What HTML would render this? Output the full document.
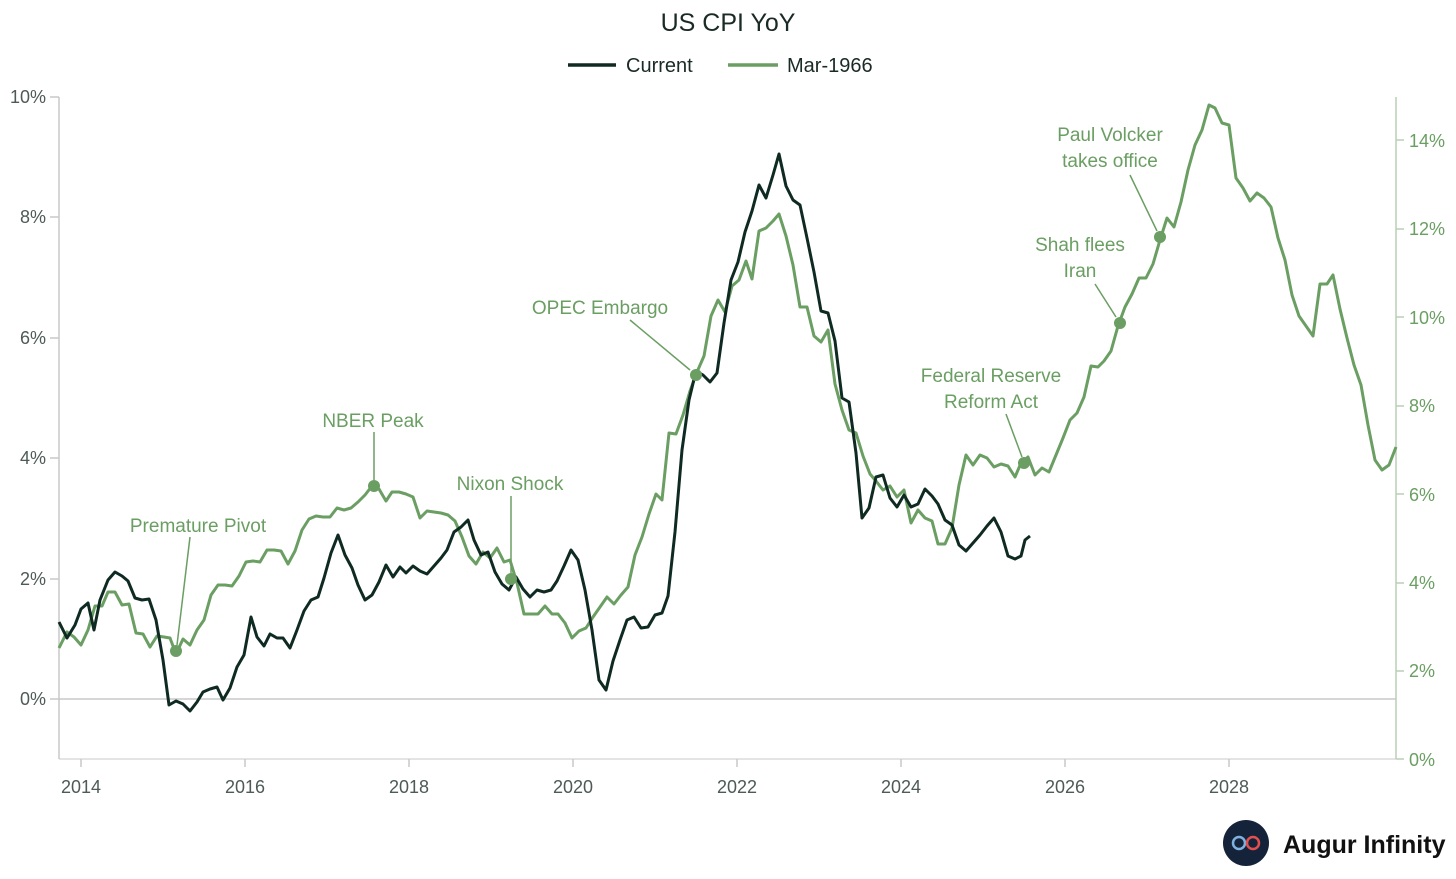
<!DOCTYPE html>
<html><head><meta charset="utf-8"><style>
html,body{margin:0;padding:0;background:#fff;}
svg{display:block;font-family:"Liberation Sans",sans-serif;}
</style></head><body>
<svg width="1456" height="879" viewBox="0 0 1456 879" xmlns="http://www.w3.org/2000/svg">
<rect width="1456" height="879" fill="#fff"/>
<text x="728" y="31" text-anchor="middle" font-size="25" fill="#1a2a26">US CPI YoY</text>
<line x1="568" y1="65" x2="616" y2="65" stroke="#0f2a22" stroke-width="3.5"/>
<text x="626" y="72" font-size="20" fill="#1a2a26">Current</text>
<line x1="728" y1="65" x2="778" y2="65" stroke="#6a9e62" stroke-width="3.5"/>
<text x="787" y="72" font-size="20" fill="#1a2a26">Mar-1966</text>
<!-- axes -->
<line x1="59" y1="97" x2="59" y2="759" stroke="#c8c8c8" stroke-width="1.5"/>
<line x1="1396" y1="97" x2="1396" y2="759" stroke="#b9cfb5" stroke-width="1.5"/>
<line x1="59" y1="699" x2="1396" y2="699" stroke="#c8c8c8" stroke-width="1.5"/>
<line x1="59" y1="759" x2="1396" y2="759" stroke="#c8c8c8" stroke-width="1"/>
<g font-size="18" fill="#4d5a56" text-anchor="end">
<text x="46" y="103">10%</text><text x="46" y="223">8%</text><text x="46" y="344">6%</text>
<text x="46" y="464">4%</text><text x="46" y="585">2%</text><text x="46" y="705">0%</text>
</g>
<g stroke="#c8c8c8" stroke-width="1.5">
<line x1="50" y1="97" x2="59" y2="97"/><line x1="50" y1="217" x2="59" y2="217"/><line x1="50" y1="338" x2="59" y2="338"/>
<line x1="50" y1="458" x2="59" y2="458"/><line x1="50" y1="579" x2="59" y2="579"/><line x1="50" y1="699" x2="59" y2="699"/>
</g>
<g font-size="18" fill="#6a9e62">
<text x="1409" y="147">14%</text><text x="1409" y="235">12%</text><text x="1409" y="324">10%</text>
<text x="1409" y="412">8%</text><text x="1409" y="501">6%</text><text x="1409" y="589">4%</text>
<text x="1409" y="677">2%</text><text x="1409" y="766">0%</text>
</g>
<g stroke="#b9cfb5" stroke-width="1.5">
<line x1="1396" y1="140" x2="1404" y2="140"/><line x1="1396" y1="229" x2="1404" y2="229"/><line x1="1396" y1="317" x2="1404" y2="317"/>
<line x1="1396" y1="406" x2="1404" y2="406"/><line x1="1396" y1="494" x2="1404" y2="494"/><line x1="1396" y1="583" x2="1404" y2="583"/>
<line x1="1396" y1="671" x2="1404" y2="671"/><line x1="1396" y1="759" x2="1404" y2="759"/>
</g>
<g font-size="18" fill="#4d5a56" text-anchor="middle">
<text x="81" y="793">2014</text><text x="245" y="793">2016</text><text x="409" y="793">2018</text><text x="573" y="793">2020</text>
<text x="737" y="793">2022</text><text x="901" y="793">2024</text><text x="1065" y="793">2026</text><text x="1229" y="793">2028</text>
</g>
<g stroke="#c8c8c8" stroke-width="1.5">
<line x1="81" y1="759" x2="81" y2="767"/><line x1="245" y1="759" x2="245" y2="767"/><line x1="409" y1="759" x2="409" y2="767"/><line x1="573" y1="759" x2="573" y2="767"/>
<line x1="737" y1="759" x2="737" y2="767"/><line x1="901" y1="759" x2="901" y2="767"/><line x1="1065" y1="759" x2="1065" y2="767"/><line x1="1229" y1="759" x2="1229" y2="767"/>
</g>
<!-- green series -->
<polyline fill="none" stroke="#6a9e62" stroke-width="3" stroke-linejoin="round" points="59,648 67,632 74,637 81,645 88,630 95,606 102,606 108,592 115,592 122,605 129,604 136,633 143,634 150,647 157,636 164,637 170,638 176,654 183,639 190,645 197,630 204,620 211,595 218,585 225,585 232,586 239,576 246,562 253,561 260,562 267,550 274,550 281,551 288,564 295,551 302,530 309,519 316,516 323,517 330,517 337,508 344,510 351,508 358,502 365,495 372,486 379,489 386,501 392,492 399,492 406,494 413,497 420,518 427,511 434,512 441,513 448,515 455,521 462,537 469,556 476,564 483,552 490,558 497,548 504,562 510,560 517,583 524,614 531,614 538,614 545,606 552,614 558,614 565,623 572,638 579,631 586,628 593,617 600,607 607,597 614,604 621,595 628,587 635,555 642,537 649,514 656,494 662,500 669,433 676,434 683,415 690,391 697,372 704,356 711,316 718,300 725,312 732,286 739,280 746,261 752,279 759,231 766,228 773,221 779,214 786,236 793,265 800,307 807,307 814,336 821,342 828,330 835,384 842,410 849,430 856,433 863,456 870,474 876,481 883,490 890,486 897,497 904,490 911,523 918,510 925,518 932,521 938,544 945,544 952,528 959,485 966,455 973,465 980,455 987,458 994,467 1001,464 1008,466 1015,477 1021,463 1028,457 1035,475 1042,468 1049,472 1056,455 1063,438 1070,420 1077,413 1084,397 1091,366 1098,367 1104,361 1111,351 1118,326 1125,307 1132,294 1139,278 1146,278 1153,264 1160,240 1167,218 1174,227 1181,202 1188,170 1195,145 1202,130 1209,105 1215,108 1222,123 1229,125 1236,178 1243,188 1250,201 1257,193 1264,198 1271,207 1278,238 1285,260 1292,295 1299,316 1306,326 1313,336 1320,284 1327,284 1333,275 1340,309 1347,338 1354,365 1361,385 1368,425 1375,460 1382,470 1389,465 1396,447"/>
<!-- current series -->
<polyline fill="none" stroke="#0f2a22" stroke-width="3" stroke-linejoin="round" points="59,622 67,638 75,625 81,609 88,603 94,630 100,600 108,580 115,572 122,576 128,581 135,598 142,600 149,599 156,620 163,660 169,705 176,701 183,704 190,711 197,702 203,692 210,689 217,687 223,700 230,688 237,667 244,655 251,617 257,637 264,646 270,634 277,638 283,638 290,648 297,630 304,611 311,600 318,597 324,578 331,553 338,535 345,555 352,568 358,585 365,600 372,595 379,582 386,565 393,577 400,567 406,573 413,566 420,571 427,574 434,566 441,558 447,550 454,532 461,527 468,520 474,540 481,555 488,552 495,572 502,584 509,590 516,577 523,589 530,597 537,590 544,592 551,590 557,581 564,566 571,550 578,560 585,590 592,630 599,680 606,690 613,661 620,640 627,620 634,617 641,628 648,627 655,615 662,613 668,596 675,532 682,450 689,400 696,371 703,375 710,382 717,373 724,323 731,280 738,262 745,232 752,211 759,185 766,198 773,175 779,154 786,186 793,200 800,205 807,238 814,272 821,311 828,313 835,341 842,398 849,402 856,453 862,518 869,508 876,477 883,475 890,498 897,507 904,495 911,507 918,504 925,489 932,496 938,504 945,520 952,525 959,545 966,551 973,543 980,535 987,526 994,518 1001,532 1008,556 1015,559 1021,556 1025,540 1030,536"/>
<!-- annotations -->
<g stroke="#6a9e62" stroke-width="1.5" fill="none">
<line x1="190" y1="537" x2="177" y2="645"/>
<line x1="374" y1="432" x2="374" y2="480"/>
<line x1="511" y1="496" x2="511" y2="573"/>
<line x1="630" y1="320" x2="690" y2="370"/>
<line x1="1006" y1="414" x2="1022" y2="457"/>
<line x1="1095" y1="284" x2="1116" y2="317"/>
<line x1="1130" y1="175" x2="1157" y2="231"/>
</g>
<g fill="#6a9e62">
<circle cx="176" cy="651" r="6"/><circle cx="374" cy="486" r="6"/><circle cx="511" cy="579" r="6"/>
<circle cx="696" cy="375" r="6"/><circle cx="1024" cy="463" r="6"/><circle cx="1120" cy="323" r="6"/><circle cx="1160" cy="237" r="6"/>
</g>
<g font-size="19" fill="#6a9e62" text-anchor="middle">
<text x="198" y="532">Premature Pivot</text>
<text x="373" y="427">NBER Peak</text>
<text x="510" y="490">Nixon Shock</text>
<text x="600" y="314">OPEC Embargo</text>
<text x="991" y="382">Federal Reserve</text><text x="991" y="408">Reform Act</text>
<text x="1080" y="251">Shah flees</text><text x="1080" y="277">Iran</text>
<text x="1110" y="141">Paul Volcker</text><text x="1110" y="167">takes office</text>
</g>
<!-- logo -->
<circle cx="1246" cy="843" r="23" fill="#14223a"/>
<circle cx="1239" cy="843" r="6" fill="none" stroke="#7fb0e0" stroke-width="2.5"/>
<circle cx="1253" cy="843" r="6" fill="none" stroke="#e05050" stroke-width="2.5"/>
<text x="1283" y="853" font-size="25" font-weight="bold" fill="#111">Augur Infinity</text>
</svg>
</body></html>
